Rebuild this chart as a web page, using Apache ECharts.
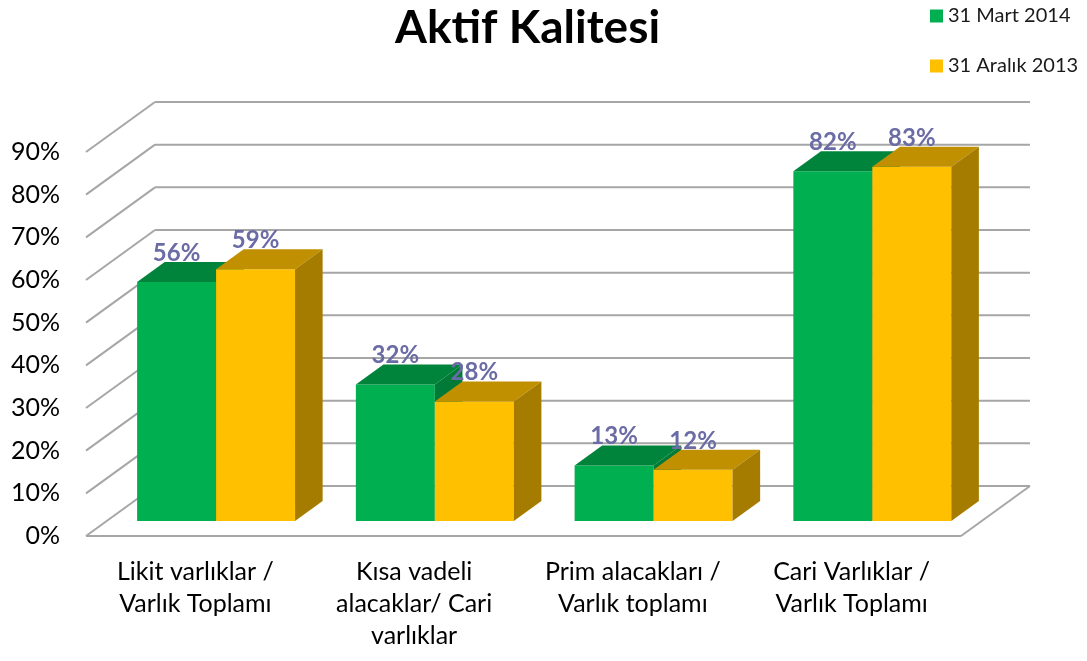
<!DOCTYPE html>
<html>
<head>
<meta charset="utf-8">
<script src="https://cdn.jsdelivr.net/npm/echarts@6/dist/echarts.min.js"></script>
<style>
  html, body { margin: 0; padding: 0; background: #fff; }
  #main { width: 1087px; height: 661px; }
</style>
</head>
<body>
<div id="main"></div>
<script>
var categories = ['Likit varlıklar /\nVarlık Toplamı', 'Kısa vadeli\nalacaklar/ Cari\nvarlıklar', 'Prim alacakları /\nVarlık toplamı', 'Cari Varlıklar /\nVarlık Toplamı'];
var mart2014 = [0.56, 0.32, 0.13, 0.82];
var aralik2013 = [0.59, 0.28, 0.12, 0.83];
var yTicks = [0, 0.1, 0.2, 0.3, 0.4, 0.5, 0.6, 0.7, 0.8, 0.9];

var FONT = 'Lato';
// floor depth in pixels (front edge -> back wall)
var DX = 69, DY = -50;
var GRID_COLOR = '#a6a6a6';

function pct(v) { return Math.round(v * 100) + '%'; }

function wallItem(params, api) {
  var cs = params.coordSys;
  var L = cs.x, R = cs.x + cs.width;
  var y = api.coord([0, api.value(1)])[1];
  var st = { stroke: GRID_COLOR, lineWidth: 2 };
  var kids = [
    { type: 'line', shape: { x1: L, y1: y, x2: L + DX, y2: y + DY }, style: st },
    { type: 'line', shape: { x1: L + DX, y1: y + DY, x2: R + DX, y2: y + DY }, style: st }
  ];
  if (api.value(1) === 0) {
    kids.push({ type: 'line', shape: { x1: L, y1: y, x2: R, y2: y }, style: st });
    kids.push({ type: 'line', shape: { x1: R, y1: y, x2: R + DX, y2: y + DY }, style: st });
  }
  return { type: 'group', children: kids };
}

function barRenderer(side, front, top, right) {
  return function (params, api) {
    var i = api.value(0), v = api.value(1);
    var base = api.coord([i, 0]);
    var tp = api.coord([i, v]);
    var bw = api.size([1, 0])[0] * 0.361;
    var fx = DX * 0.3, fy = DY * 0.3;
    var bx = DX * 0.4, by = DY * 0.4;
    var x0 = base[0] + (side === 0 ? -bw : 0) + fx;
    var x1 = x0 + bw;
    var yb = base[1] + fy, yt = tp[1] + fy;
    return {
      type: 'group',
      children: [
        { type: 'rect', shape: { x: x0, y: yt, width: bw, height: yb - yt }, style: { fill: front } },
        { type: 'polygon', shape: { points: [[x0, yt], [x1, yt], [x1 + bx, yt + by], [x0 + bx, yt + by]] }, style: { fill: top } },
        { type: 'polygon', shape: { points: [[x1, yt], [x1 + bx, yt + by], [x1 + bx, yb + by], [x1, yb]] }, style: { fill: right } },
        { type: 'text', x: (x0 + x1) / 2, y: yt + by - 9, style: {
            text: pct(v), fill: '#6b6ba5', font: 'bold 24px ' + FONT, align: 'center', verticalAlign: 'middle' } }
      ]
    };
  };
}

var chart = echarts.init(document.getElementById('main'));
chart.setOption({
  animation: false,
  title: {
    text: 'Aktif Kalitesi', left: 390, top: 0,
    textStyle: { fontFamily: FONT, fontWeight: 'bold', fontSize: 46, color: '#000' }
  },
  legend: {
    orient: 'vertical', left: 925, top: 0, itemWidth: 13, itemHeight: 13, itemGap: 28, icon: 'rect',
    textStyle: { fontFamily: FONT, fontSize: 20, color: '#1a1a1a', lineHeight: 22 },
    data: ['31 Mart 2014', '31 Aralık 2013']
  },
  grid: { left: 86, right: 126, top: 152, bottom: 125 },
  xAxis: {
    type: 'category', data: categories,
    axisLine: { show: false }, axisTick: { show: false },
    axisLabel: { interval: 0, margin: 20, fontFamily: FONT, fontSize: 25, lineHeight: 32, color: '#000' }
  },
  yAxis: {
    type: 'value', min: 0, max: 0.9, interval: 0.1,
    axisLine: { show: false }, axisTick: { show: false }, splitLine: { show: false },
    axisLabel: { margin: 26, fontFamily: FONT, fontSize: 25, color: '#000', formatter: pct }
  },
  series: [
    {
      type: 'custom', name: 'walls', silent: true, z: 1,
      renderItem: wallItem, encode: { x: 0, y: 1 },
      data: yTicks.map(function (t) { return [0, t]; })
    },
    {
      type: 'custom', name: '31 Mart 2014', z: 2,
      itemStyle: { color: '#00b050' },
      renderItem: barRenderer(0, '#00b050', '#00843c', '#007a36'), encode: { x: 0, y: 1 },
      data: mart2014.map(function (v, i) { return [i, v]; })
    },
    {
      type: 'custom', name: '31 Aralık 2013', z: 3,
      itemStyle: { color: '#ffc000' },
      renderItem: barRenderer(1, '#ffc000', '#c09000', '#a67c00'), encode: { x: 0, y: 1 },
      data: aralik2013.map(function (v, i) { return [i, v]; })
    }
  ]
});
</script>
</body>
</html>
